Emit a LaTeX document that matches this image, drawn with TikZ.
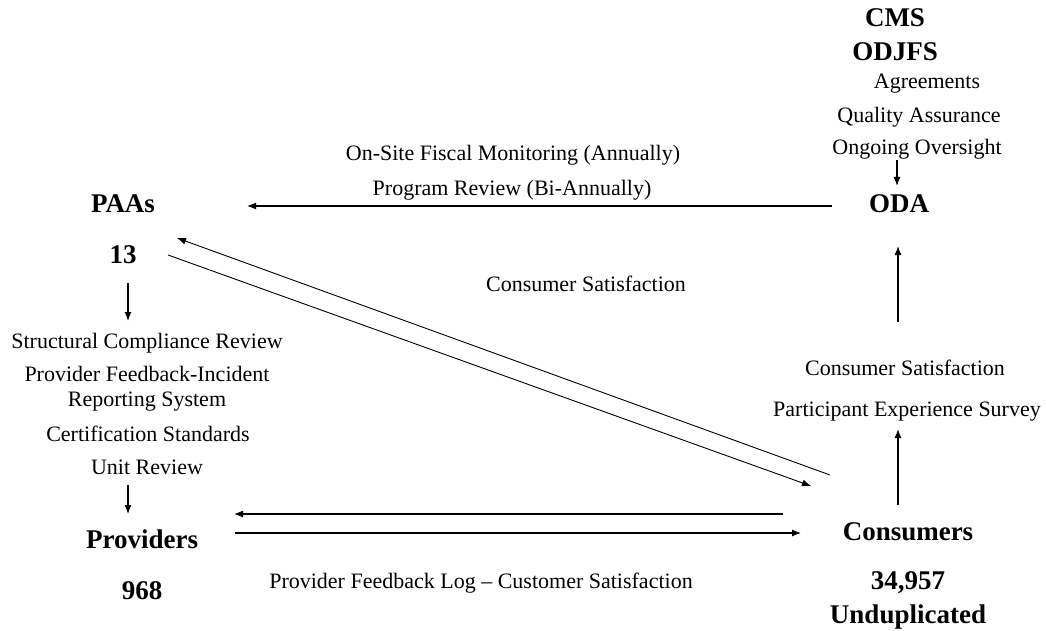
\documentclass[tikz,border=0pt]{standalone}
\usepackage{fontspec}
\setmainfont{Liberation Serif}
\usetikzlibrary{arrows.meta}

\begin{document}
\begin{tikzpicture}[x=1pt,y=-1pt,
  txt/.style={font=\fontsize{22}{25}\selectfont, inner sep=0pt, align=center},
  hd/.style={font=\fontsize{27}{30}\selectfont\bfseries, inner sep=0pt, align=center},
  arr/.style={-{Latex[length=9pt,width=7pt]}, line width=1.2pt}]

  % page frame
  \useasboundingbox (0,0) rectangle (1046,631);

  % top right: CMS / ODJFS and ODA
  \node[hd] (cms) at (895,18) {CMS};
  \node[hd] (odjfs) at (895,52) {ODJFS};
  \node[txt] (agree) at (927,84) {Agreements};
  \node[txt] (qa) at (919,117) {Quality Assurance};
  \node[txt] (oversight) at (917,149) {Ongoing Oversight};
  \node[hd] (oda) at (899,204) {ODA};

  % left column: PAAs down to Providers
  \node[hd] (paas) at (123,204) {PAAs};
  \node[hd] (paasnum) at (123,255) {13};
  \node[txt] (scr) at (147,343) {Structural Compliance Review};
  \node[txt] (pfis) at (147,389) {Provider Feedback-Incident\\[0pt]Reporting System};
  \node[txt] (cert) at (148,434) {Certification Standards};
  \node[txt] (unit) at (147,467) {Unit Review};
  \node[hd] (prov) at (142,539) {Providers};
  \node[hd] (provnum) at (142,591) {968};

  % bottom right: Consumers
  \node[txt] (csat) at (905,368) {Consumer Satisfaction};
  \node[txt] (pes) at (907,412) {Participant Experience Survey};
  \node[hd] (cons) at (908,532) {Consumers};
  \node[hd] (consnum) at (908,600) {34,957\\[4pt]Unduplicated};

  % labels on the connectors
  \node[txt] (fiscal) at (513,155) {On-Site Fiscal Monitoring (Annually)};
  \node[txt] (review) at (512,190) {Program Review (Bi-Annually)};
  \node[txt] (diagsat) at (586,284) {Consumer Satisfaction};
  \node[txt] (feedlog) at (481,583) {Provider Feedback Log -- Customer Satisfaction};

  % end points of the connectors
  \coordinate (odaIn) at (897,160);
  \coordinate (odaTop) at (897,186);
  \coordinate (odaL) at (832,206);
  \coordinate (paasR) at (247,206);
  \coordinate (paasD1) at (128,283);
  \coordinate (paasD2) at (128,321);
  \coordinate (unitD1) at (128,485);
  \coordinate (unitD2) at (128,514);
  \coordinate (diagA1) at (830,475);
  \coordinate (diagA2) at (177,238);
  \coordinate (diagB1) at (168,255);
  \coordinate (diagB2) at (811,486);
  \coordinate (provA1) at (783,514);
  \coordinate (provA2) at (234,514);
  \coordinate (provB1) at (235,533);
  \coordinate (provB2) at (801,533);
  \coordinate (consU1) at (898,505);
  \coordinate (consU2) at (898,429);
  \coordinate (odaU1) at (898,322);
  \coordinate (odaU2) at (898,246);

  % connectors
  \draw[arr] (odaIn) -- (odaTop);
  \draw[arr] (odaL) -- (paasR);
  \draw[arr] (paasD1) -- (paasD2);
  \draw[arr] (unitD1) -- (unitD2);
  \draw[arr, line width=0.9pt] (diagA1) -- (diagA2);
  \draw[arr, line width=0.9pt] (diagB1) -- (diagB2);
  \draw[arr] (provA1) -- (provA2);
  \draw[arr] (provB1) -- (provB2);
  \draw[arr] (consU1) -- (consU2);
  \draw[arr] (odaU1) -- (odaU2);

\end{tikzpicture}
\end{document}
